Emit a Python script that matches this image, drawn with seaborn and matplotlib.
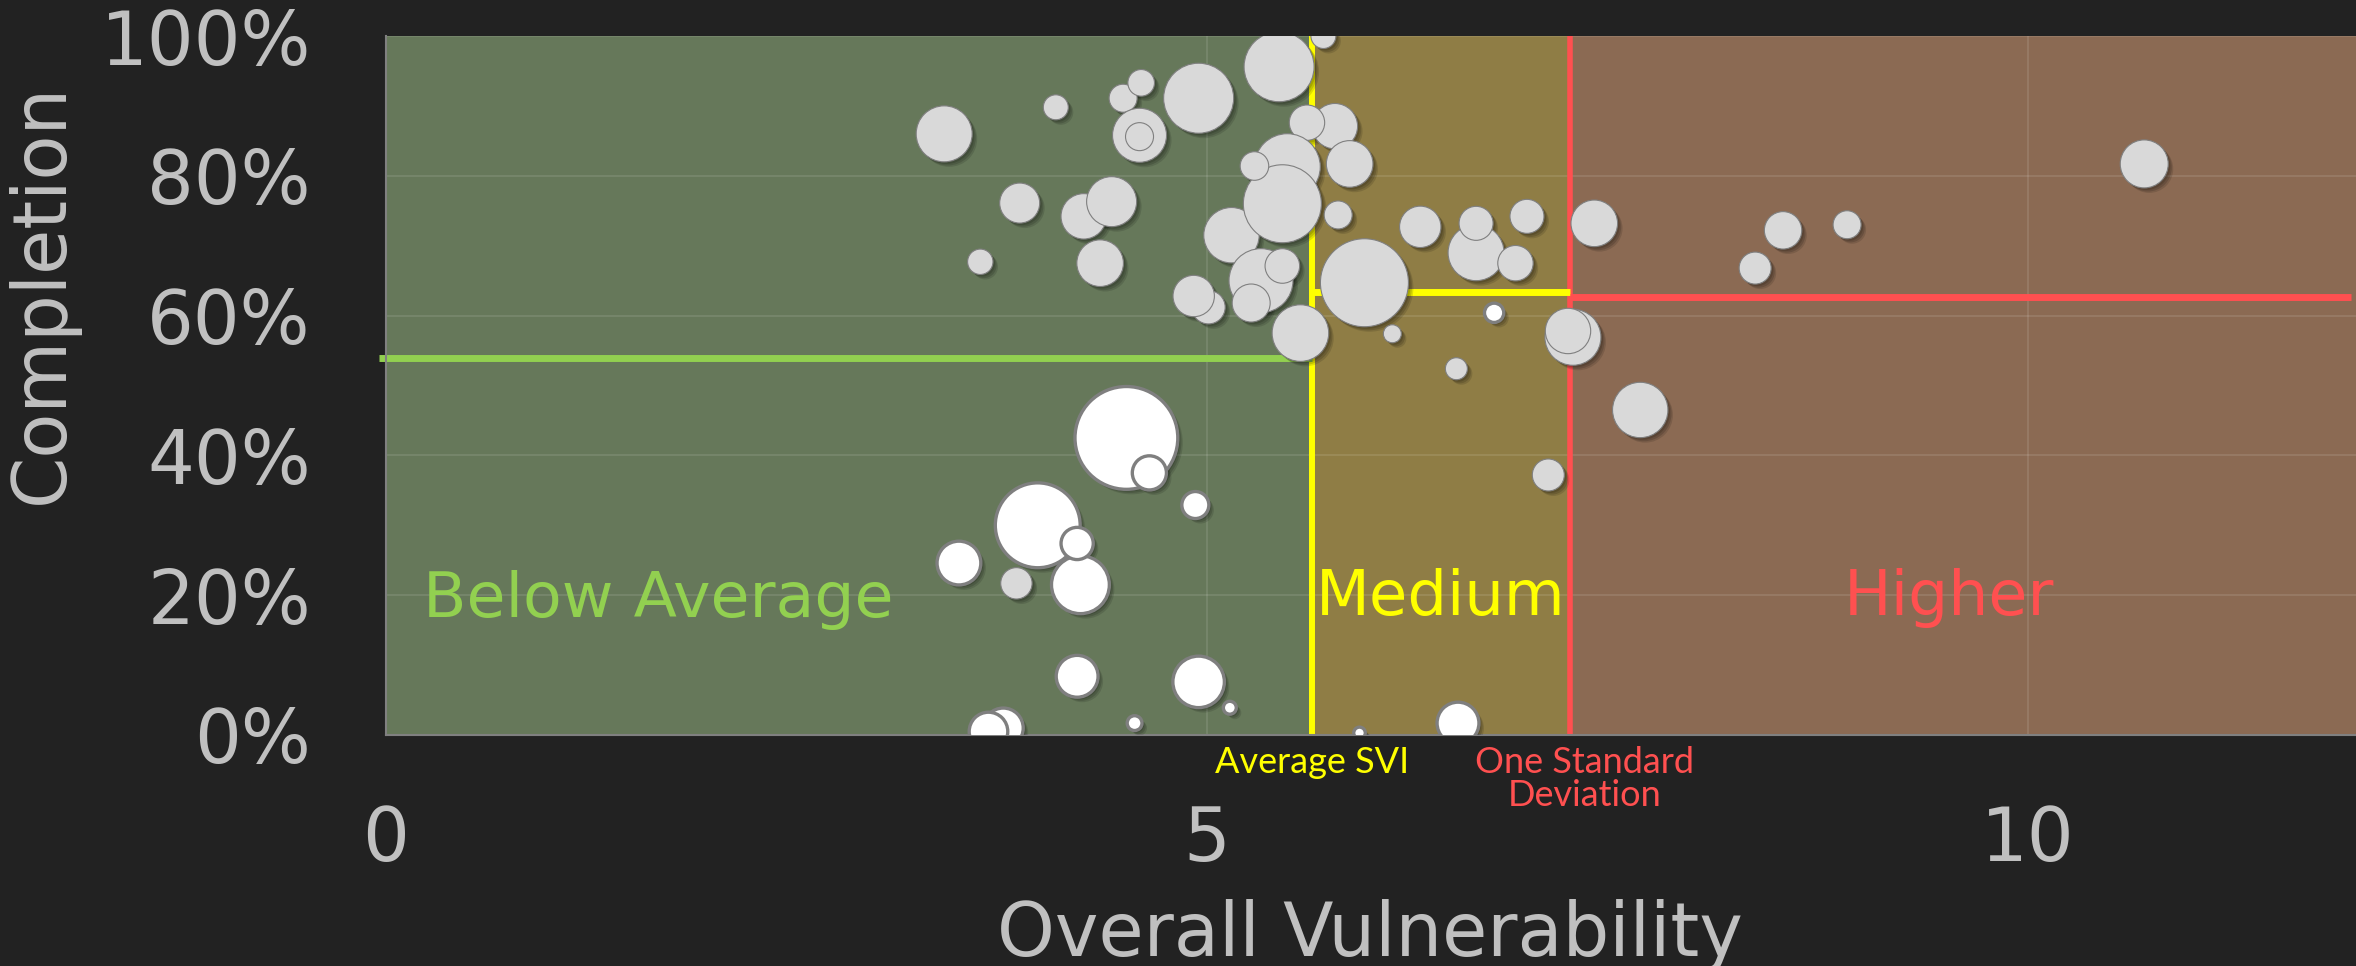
import numpy as np
import pandas as pd
import seaborn as sns
import matplotlib.pyplot as plt
import matplotlib.patheffects as pe
from matplotlib.ticker import PercentFormatter
import matplotlib.transforms as mtransforms

# bubbles with completion above ~45% (light grey)
svi_grey = [3.40, 4.08, 3.86, 3.62, 4.49, 4.60, 4.59, 4.59, 4.95, 5.44,
            5.71, 5.78, 5.61, 5.87, 5.15, 5.49, 5.46, 5.29, 5.33, 5.46,
            5.27, 5.01, 4.92, 5.57, 5.80, 5.96, 6.13, 6.30, 4.25, 4.42,
            4.35, 6.64, 6.64, 6.95, 6.88, 6.52, 7.23, 7.20, 7.36, 8.51,
            8.34, 8.90, 10.71, 7.64, 7.08, 3.84]
completion_grey = [86.0, 89.8, 76.1, 67.7, 91.1, 93.3, 85.8, 85.6, 91.1, 95.6,
                   100.0, 87.1, 87.6, 81.7, 71.5, 81.3, 76.0, 81.4, 65.0, 67.1,
                   61.8, 61.2, 62.8, 57.5, 74.4, 64.7, 57.4, 72.7, 74.2, 76.3,
                   67.5, 69.0, 73.2, 74.2, 67.5, 52.4, 56.9, 57.8, 73.2, 72.2,
                   66.8, 73.0, 81.7, 46.5, 37.2, 21.7]
enroll_grey = [784, 156, 400, 161, 196, 177, 729, 196, 1225, 1225,
               156, 515, 313, 543, 767, 1089, 1521, 204, 1024, 299,
               361, 279, 428, 801, 196, 1936, 81, 428, 515, 625,
               543, 784, 289, 289, 313, 121, 784, 515, 543, 350,
               256, 196, 576, 767, 256, 246]

# bubbles drawn white
svi_white = [4.51, 4.65, 4.93, 3.97, 4.23, 4.21, 3.49, 4.21, 4.95, 5.14,
             4.56, 3.76, 3.67, 5.93, 6.75, 6.53]
completion_white = [42.5, 37.5, 32.9, 30.0, 21.5, 27.4, 24.6, 8.4, 7.6, 3.9,
                    1.7, 1.0, 0.5, 0.3, 60.4, 1.7]
enroll_white = [2841, 313, 196, 1936, 900, 279, 515, 471, 713, 45,
                59, 428, 400, 36, 100, 471]

avg_svi = 5.64
one_sd = 7.21
x_max = 12
mean_below = 54.0
mean_medium = 63.4
mean_higher = 62.7

x_ticks = [0, 5, 10]
y_ticks = [0, 20, 40, 60, 80, 100]

BG = '#222222'
GREEN = '#92D050'
YELLOW = '#FFFF00'
RED = '#FF5050'
TXT = '#C0C0C0'

grey_df = pd.DataFrame({'svi': svi_grey, 'completion': completion_grey, 'enroll': enroll_grey})
white_df = pd.DataFrame({'svi': svi_white, 'completion': completion_white, 'enroll': enroll_white})

plt.style.use('default')
W, H = 2356, 966
fig = plt.figure(figsize=(W / 100, H / 100), dpi=100, facecolor=BG)
ax = fig.add_axes([386 / W, 231 / H, 1970 / W, 699 / H])
ax.set_facecolor(BG)

# bands
ax.axvspan(0, avg_svi, color='#66785A', zorder=0, lw=0)
ax.axvspan(avg_svi, one_sd, color='#8F7D45', zorder=0, lw=0)
ax.axvspan(one_sd, x_max, color='#8B6A53', zorder=0, lw=0)

ax.set_xlim(0, x_max)
ax.set_ylim(0, 100)
ax.set_axisbelow(True)
ax.grid(True, color='white', alpha=0.12, lw=1.2)

# threshold and mean lines
ax.axvline(avg_svi, color=YELLOW, lw=4.3, zorder=2)
ax.axvline(one_sd, color=RED, lw=4.0, zorder=2)
ax.hlines(mean_below, -0.04, avg_svi, color=GREEN, lw=5, zorder=2, clip_on=False)
ax.hlines(mean_medium, avg_svi, one_sd, color=YELLOW, lw=5, zorder=2)
ax.hlines(mean_higher, one_sd, x_max - 0.03, color=RED, lw=5, zorder=2)

# bubbles: area proportional to enrollment
k = 2.0736
vmax = max(enroll_grey + enroll_white)
shadow = [pe.SimplePatchShadow(offset=(1.5, -1.5), shadow_rgbFace='black', alpha=0.14),
          pe.SimplePatchShadow(offset=(2.6, -2.6), shadow_rgbFace='black', alpha=0.14),
          pe.SimplePatchShadow(offset=(3.6, -3.6), shadow_rgbFace='black', alpha=0.12),
          pe.Normal()]

sns.scatterplot(data=grey_df, x='svi', y='completion', size='enroll',
                sizes=(0, k * vmax), size_norm=(0, vmax), legend=False,
                color='#D9D9D9', edgecolor='#7F7F7F', linewidth=0.8,
                alpha=1, zorder=3, path_effects=shadow, ax=ax)
sns.scatterplot(data=white_df, x='svi', y='completion', size='enroll',
                sizes=(0, k * vmax * 0.93), size_norm=(0, vmax), legend=False,
                color='#FFFFFF', edgecolor='#7F7F7F', linewidth=2.4,
                alpha=1, zorder=3, path_effects=shadow, ax=ax)

# region labels
ax.text(0.225, 16.9, 'Below Average', color=GREEN, fontsize=45.5,
        ha='left', va='baseline', zorder=4)
ax.text((avg_svi + one_sd) / 2, 17.2, 'Medium', color=YELLOW, fontsize=45,
        ha='center', va='baseline', zorder=4)
ax.text(9.52, 17.2, 'Higher', color=RED, fontsize=45.5,
        ha='center', va='baseline', zorder=4)

trans = mtransforms.blended_transform_factory(ax.transData, ax.transAxes)
ax.text(avg_svi, -0.0544, 'Average SVI', color=YELLOW, fontsize=26,
        family='Lato', ha='center', va='baseline', transform=trans, clip_on=False)
ax.text(7.30, -0.1016, 'One Standard\nDeviation', color=RED, fontsize=26,
        family='Lato', ha='center', va='baseline', multialignment='center',
        linespacing=1.0, transform=trans, clip_on=False)

# axes styling
ax.set_xticks(x_ticks)
ax.set_yticks(y_ticks)
ax.yaxis.set_major_formatter(PercentFormatter(decimals=0))
ax.tick_params(axis='both', length=0, labelsize=53, labelcolor=TXT)
ax.tick_params(axis='y', pad=54)
ax.tick_params(axis='x', pad=49.5)
for side in ['top', 'right']:
    ax.spines[side].set_visible(False)
for side in ['left', 'bottom']:
    ax.spines[side].set_color('#808080')
    ax.spines[side].set_linewidth(1.5)
ax.set_xlabel('')
ax.set_ylabel('')

fig.text(42 / W, 1 - 293 / H, 'Completion', rotation=90, color=TXT,
         fontsize=53, ha='center', va='center')
fig.text(1370 / W, 10.5 / H, 'Overall Vulnerability', color=TXT,
         fontsize=53, ha='center', va='baseline')

fig.savefig('out.png', dpi=100, facecolor=BG)
